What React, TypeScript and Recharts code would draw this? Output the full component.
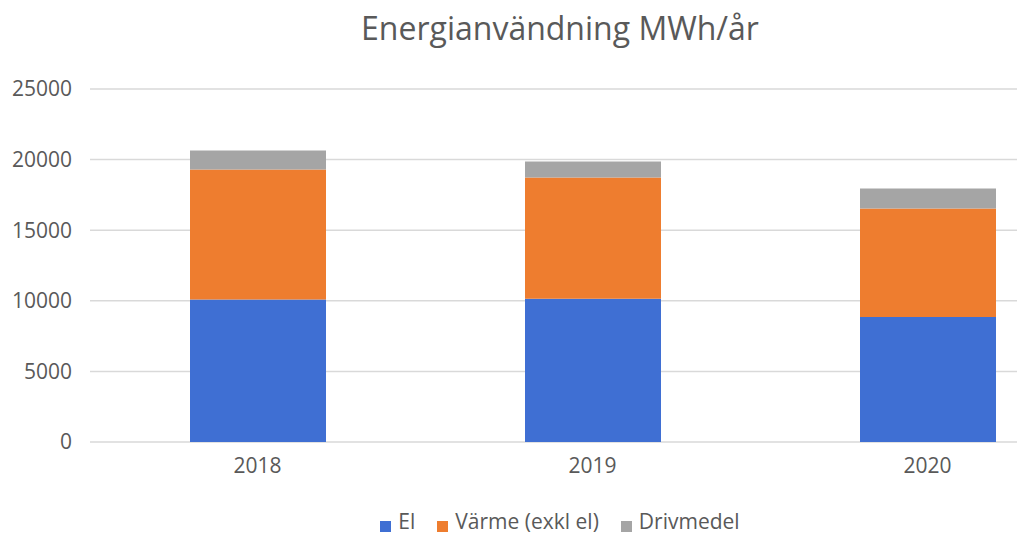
import React from 'react';
import { BarChart, Bar, XAxis, YAxis, CartesianGrid, Legend } from 'recharts';

const years = ['2018', '2019', '2020'];
const el = [10100, 10150, 8850];
const varme = [9200, 8580, 7680];
const drivmedel = [1350, 1140, 1430];
const yTicks = [0, 5000, 10000, 15000, 20000, 25000];
const seriesOrder = ['El', 'Värme (exkl el)', 'Drivmedel'];

const data = years.map((y, i) => ({ year: y, el: el[i], varme: varme[i], drivmedel: drivmedel[i] }));

const FONT = '"Open Sans", sans-serif';
const TXT = '#595959';

function LegendContent(props: any) {
  const items = [...(props.payload || [])].sort(
    (a: any, b: any) => seriesOrder.indexOf(a.value) - seriesOrder.indexOf(b.value)
  );
  return (
    <div style={{ display: 'flex', justifyContent: 'center', fontSize: 21, lineHeight: '27px', fontFamily: FONT, color: TXT }}>
      {items.map((it: any, i: number) => (
        <span key={it.value} style={{ display: 'inline-flex', alignItems: 'baseline', marginRight: i < items.length - 1 ? 22 : 0 }}>
          <span style={{ display: 'inline-block', width: 11, height: 11, background: it.color, marginRight: 7, position: 'relative', top: 3 }} />
          <span>{it.value}</span>
        </span>
      ))}
    </div>
  );
}

export default function App() {
  return (
    <div style={{ position: 'absolute', left: 0, top: 0, width: 1017, height: 535, overflow: 'hidden', background: '#fff', fontFamily: FONT }}>
      <div style={{ position: 'absolute', left: 0, top: 8, width: 1120, textAlign: 'center', fontSize: 32, color: TXT, lineHeight: '40px' }}>
        Energianvändning MWh/år
      </div>
      <div style={{ position: 'absolute', left: 0, top: 0 }}>
        <BarChart width={1120} height={535} data={data} margin={{ top: 89, right: 25, bottom: 0, left: 0 }}>
          <CartesianGrid horizontal vertical={false} stroke="#d9d9d9" strokeWidth={1.5} />
          <XAxis dataKey="year" axisLine={false} tickLine={false} height={66} tickMargin={10}
            tick={{ fontSize: 21, fill: TXT, fontFamily: FONT }} />
          <YAxis width={90} domain={[0, 25000]} ticks={yTicks} axisLine={false} tickLine={false} tickSize={0} tickMargin={18}
            tick={{ fontSize: 21, fill: TXT, fontFamily: FONT }} />
          <Legend verticalAlign="bottom" content={<LegendContent />}
            wrapperStyle={{ left: 0, width: 1120, bottom: 0 }} />
          <Bar dataKey="el" name="El" stackId="a" fill="#3f6fd3" barSize={136} isAnimationActive={false} />
          <Bar dataKey="varme" name="Värme (exkl el)" stackId="a" fill="#ee7d2f" barSize={136} isAnimationActive={false} />
          <Bar dataKey="drivmedel" name="Drivmedel" stackId="a" fill="#a5a5a5" barSize={136} isAnimationActive={false} />
        </BarChart>
      </div>
    </div>
  );
}
